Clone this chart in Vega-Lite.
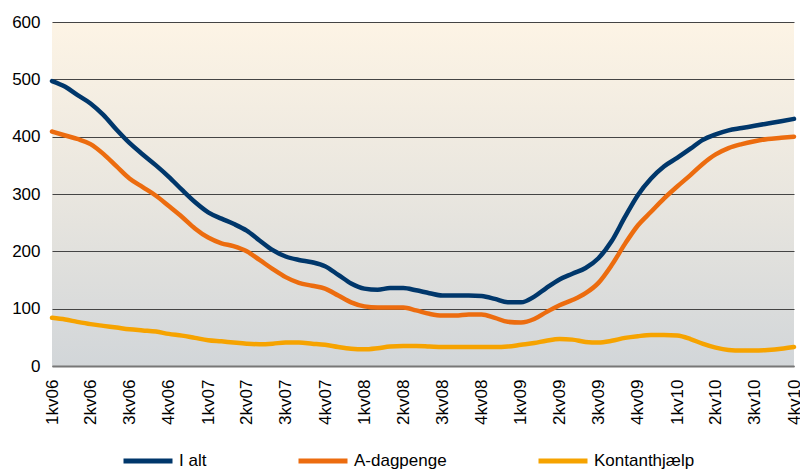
{
  "$schema": "https://vega.github.io/schema/vega-lite/v6.json",
  "autosize": "none",
  "width": 742,
  "height": 344,
  "padding": {"left": 52, "top": 22, "right": 6, "bottom": 104},
  "background": "white",
  "config": {
    "font": "Liberation Sans",
    "view": {
      "stroke": null,
      "fill": {"gradient": "linear", "x1": 0, "y1": 0, "x2": 0, "y2": 1,
        "stops": [{"offset": 0, "color": "#FDF4E5"}, {"offset": 0.5, "color": "#E9E6DF"}, {"offset": 1, "color": "#D2D6D9"}]}
    }
  },
  "data": {
    "values": [
      {"d": "2006/01/01", "I alt": 497, "A-dagpenge": 409, "Kontanthjælp": 84},
      {"d": "2006/02/01", "I alt": 487, "A-dagpenge": 402, "Kontanthjælp": 81},
      {"d": "2006/03/01", "I alt": 473, "A-dagpenge": 396, "Kontanthjælp": 77},
      {"d": "2006/04/01", "I alt": 458, "A-dagpenge": 387, "Kontanthjælp": 73},
      {"d": "2006/05/01", "I alt": 438, "A-dagpenge": 370, "Kontanthjælp": 70},
      {"d": "2006/06/01", "I alt": 412, "A-dagpenge": 348, "Kontanthjælp": 67},
      {"d": "2006/07/01", "I alt": 389, "A-dagpenge": 327, "Kontanthjælp": 64},
      {"d": "2006/08/01", "I alt": 369, "A-dagpenge": 312, "Kontanthjælp": 62},
      {"d": "2006/09/01", "I alt": 350, "A-dagpenge": 297, "Kontanthjælp": 60},
      {"d": "2006/10/01", "I alt": 330, "A-dagpenge": 279, "Kontanthjælp": 56},
      {"d": "2006/11/01", "I alt": 307, "A-dagpenge": 260, "Kontanthjælp": 53},
      {"d": "2006/12/01", "I alt": 286, "A-dagpenge": 240, "Kontanthjælp": 49},
      {"d": "2007/01/01", "I alt": 268, "A-dagpenge": 224, "Kontanthjælp": 45},
      {"d": "2007/02/01", "I alt": 257, "A-dagpenge": 214, "Kontanthjælp": 43},
      {"d": "2007/03/01", "I alt": 248, "A-dagpenge": 209, "Kontanthjælp": 41},
      {"d": "2007/04/01", "I alt": 236, "A-dagpenge": 200, "Kontanthjælp": 39},
      {"d": "2007/05/01", "I alt": 219, "A-dagpenge": 185, "Kontanthjælp": 38},
      {"d": "2007/06/01", "I alt": 202, "A-dagpenge": 169, "Kontanthjælp": 39},
      {"d": "2007/07/01", "I alt": 191, "A-dagpenge": 155, "Kontanthjælp": 41},
      {"d": "2007/08/01", "I alt": 185, "A-dagpenge": 145, "Kontanthjælp": 41},
      {"d": "2007/09/01", "I alt": 181, "A-dagpenge": 140, "Kontanthjælp": 39},
      {"d": "2007/10/01", "I alt": 174, "A-dagpenge": 135, "Kontanthjælp": 37},
      {"d": "2007/11/01", "I alt": 159, "A-dagpenge": 123, "Kontanthjælp": 33},
      {"d": "2007/12/01", "I alt": 144, "A-dagpenge": 111, "Kontanthjælp": 30},
      {"d": "2008/01/01", "I alt": 135, "A-dagpenge": 104, "Kontanthjælp": 29},
      {"d": "2008/02/01", "I alt": 133, "A-dagpenge": 102, "Kontanthjælp": 31},
      {"d": "2008/03/01", "I alt": 136, "A-dagpenge": 102, "Kontanthjælp": 34},
      {"d": "2008/04/01", "I alt": 136, "A-dagpenge": 102, "Kontanthjælp": 35},
      {"d": "2008/05/01", "I alt": 132, "A-dagpenge": 97, "Kontanthjælp": 35},
      {"d": "2008/06/01", "I alt": 127, "A-dagpenge": 91, "Kontanthjælp": 34},
      {"d": "2008/07/01", "I alt": 123, "A-dagpenge": 88, "Kontanthjælp": 33},
      {"d": "2008/08/01", "I alt": 123, "A-dagpenge": 88, "Kontanthjælp": 33},
      {"d": "2008/09/01", "I alt": 123, "A-dagpenge": 90, "Kontanthjælp": 33},
      {"d": "2008/10/01", "I alt": 122, "A-dagpenge": 90, "Kontanthjælp": 33},
      {"d": "2008/11/01", "I alt": 117, "A-dagpenge": 84, "Kontanthjælp": 33},
      {"d": "2008/12/01", "I alt": 111, "A-dagpenge": 77, "Kontanthjælp": 34},
      {"d": "2009/01/01", "I alt": 111, "A-dagpenge": 76, "Kontanthjælp": 37},
      {"d": "2009/02/01", "I alt": 121, "A-dagpenge": 82, "Kontanthjælp": 40},
      {"d": "2009/03/01", "I alt": 136, "A-dagpenge": 94, "Kontanthjælp": 44},
      {"d": "2009/04/01", "I alt": 151, "A-dagpenge": 106, "Kontanthjælp": 47},
      {"d": "2009/05/01", "I alt": 161, "A-dagpenge": 115, "Kontanthjælp": 46},
      {"d": "2009/06/01", "I alt": 171, "A-dagpenge": 127, "Kontanthjælp": 42},
      {"d": "2009/07/01", "I alt": 188, "A-dagpenge": 145, "Kontanthjælp": 41},
      {"d": "2009/08/01", "I alt": 218, "A-dagpenge": 176, "Kontanthjælp": 44},
      {"d": "2009/09/01", "I alt": 260, "A-dagpenge": 213, "Kontanthjælp": 49},
      {"d": "2009/10/01", "I alt": 298, "A-dagpenge": 245, "Kontanthjælp": 52},
      {"d": "2009/11/01", "I alt": 327, "A-dagpenge": 269, "Kontanthjælp": 54},
      {"d": "2009/12/01", "I alt": 348, "A-dagpenge": 292, "Kontanthjælp": 54},
      {"d": "2010/01/01", "I alt": 363, "A-dagpenge": 313, "Kontanthjælp": 53},
      {"d": "2010/02/01", "I alt": 379, "A-dagpenge": 333, "Kontanthjælp": 47},
      {"d": "2010/03/01", "I alt": 394, "A-dagpenge": 352, "Kontanthjælp": 39},
      {"d": "2010/04/01", "I alt": 404, "A-dagpenge": 369, "Kontanthjælp": 32},
      {"d": "2010/05/01", "I alt": 411, "A-dagpenge": 380, "Kontanthjælp": 28},
      {"d": "2010/06/01", "I alt": 415, "A-dagpenge": 387, "Kontanthjælp": 27},
      {"d": "2010/07/01", "I alt": 419, "A-dagpenge": 392, "Kontanthjælp": 27},
      {"d": "2010/08/01", "I alt": 423, "A-dagpenge": 396, "Kontanthjælp": 28},
      {"d": "2010/09/01", "I alt": 427, "A-dagpenge": 398, "Kontanthjælp": 30},
      {"d": "2010/10/01", "I alt": 431, "A-dagpenge": 400, "Kontanthjælp": 33}
    ]
  },
  "transform": [
    {"fold": ["I alt", "A-dagpenge", "Kontanthjælp"], "as": ["serie", "value"]}
  ],
  "mark": {"type": "line", "strokeWidth": 4.5, "interpolate": "monotone", "strokeCap": "round", "strokeJoin": "round"},
  "encoding": {
    "x": {
      "field": "d", "type": "temporal",
      "scale": {"nice": false},
      "axis": {
        "title": null, "format": "%qkv%y", "tickCount": {"interval": "month", "step": 3},
        "labelAngle": -90, "labelFontSize": 17, "labelColor": "#000", "labelPadding": 13,
        "ticks": false, "grid": false, "domainColor": "#777", "domainWidth": 2, "labelOverlap": false,
        "labelFlush": false
      }
    },
    "y": {
      "field": "value", "type": "quantitative",
      "scale": {"domain": [0, 600], "nice": false},
      "axis": {
        "title": null, "values": [0, 100, 200, 300, 400, 500, 600], "labelFontSize": 17, "labelColor": "#000",
        "labelPadding": 12, "ticks": false, "domain": false, "gridColor": "#444", "gridWidth": 1
      }
    },
    "color": {
      "field": "serie", "type": "nominal",
      "scale": {"domain": ["I alt", "A-dagpenge", "Kontanthjælp"], "range": ["#00376B", "#EC6C0F", "#F6A300"]},
      "legend": {
        "title": null, "orient": "none", "direction": "horizontal", "legendX": 69, "legendY": 412,
        "symbolType": "stroke", "symbolSize": 2401, "symbolStrokeWidth": 5,
        "labelFontSize": 17, "labelColor": "#000", "labelOffset": 4, "columnPadding": 81
      }
    }
  }
}
